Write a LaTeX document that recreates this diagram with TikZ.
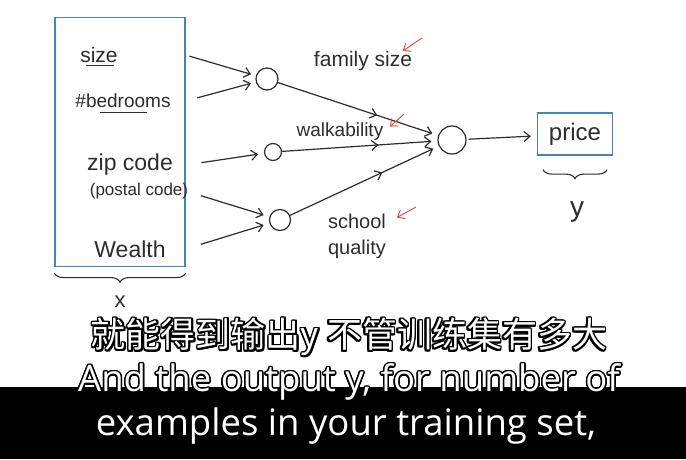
\documentclass[tikz,border=0pt]{standalone}
\usepackage{fontspec}
\setmainfont{Liberation Sans}
\newfontfamily\subfont{Open Sans}
\newfontfamily\cjkfont{Noto Sans CJK SC}
\usepackage{contour}
\contourlength{1.5pt}
\usetikzlibrary{arrows.meta,positioning,decorations.markings,decorations.pathreplacing}

\definecolor{inkblue}{RGB}{70,130,190}
\definecolor{inkred}{RGB}{228,80,70}
\definecolor{ink}{RGB}{45,45,45}

\begin{document}
\begin{tikzpicture}[
    x=1pt, y=-1pt,
    font=\fontsize{20}{22}\selectfont,
    >={Straight Barb[length=6pt,width=10pt]},
    feat/.style={text=ink, inner sep=1pt},
    lbl/.style={text=ink, inner sep=1pt, align=center},
    unit/.style={draw=ink, circle, line width=1.2pt, inner sep=0pt},
    arr/.style={->, line width=1.2pt, draw=ink},
    midarr/.style={postaction={decorate}, decoration={markings,
        mark=at position 0.62 with {\arrow[line width=1.2pt]{Straight Barb[length=6pt,width=10pt]}}}},
    redarr/.style={->, line width=1pt, draw=inkred, shorten >=2pt},
    sub/.style={text=white, inner sep=0pt}
  ]
    \fill[white] (0,0) rectangle (686,387);
    \fill[black] (0,387) rectangle (686,459);
    \useasboundingbox (0,0) rectangle (686,459);

    % inputs
    \node[draw=inkblue, line width=1.2pt, minimum width=130pt, minimum height=249pt] (inbox) at (120,142) {};
    \node[feat, font=\fontsize{21}{23}\selectfont] (size) at (99,55) {size};
    \node[feat, font=\fontsize{19}{21}\selectfont] (bed) at (123,101) {\#bedrooms};
    \node[feat, font=\fontsize{23}{25}\selectfont] (zip) at (130,165) {zip code};
    \node[feat, font=\fontsize{17}{19}\selectfont] (postal) at (139,191) {(postal code)};
    \node[feat, font=\fontsize{23}{25}\selectfont] (wealth) at (130,249) {Wealth};
    \draw[ink, line width=1pt] ([xshift=-13pt,yshift=-2pt]size.south) -- ([xshift=15pt,yshift=-2pt]size.south);
    \draw[ink, line width=1pt] ([xshift=-23pt,yshift=-3pt]bed.south) -- ([xshift=24pt,yshift=-3pt]bed.south);
    \draw[ink, line width=1.1pt, decorate, decoration={brace, amplitude=9pt, mirror}]
      ([yshift=-6pt]inbox.south west) -- ([yshift=-6pt]inbox.south east);
    \node[feat, font=\fontsize{22}{24}\selectfont] (xin) at (120,302) {x};

    % hidden units
    \node[unit, minimum size=22pt] (h1) at (267,79) {};
    \node[unit, minimum size=17pt] (h2) at (273,152) {};
    \node[unit, minimum size=21pt] (h3) at (280,220) {};
    \node[unit, minimum size=28pt] (out) at (452,140) {};

    % output
    \node[draw=inkblue, line width=1.2pt, minimum width=75pt, minimum height=42pt,
          font=\fontsize{24}{26}\selectfont, text=ink] (price) at (575,134) {price};
    \draw[ink, line width=1.1pt, decorate, decoration={brace, amplitude=9pt, mirror}]
      ([xshift=6pt,yshift=-14pt]price.south west) -- ([xshift=-6pt,yshift=-14pt]price.south east);
    \node[feat, font=\fontsize{28}{30}\selectfont] (yout) at (577,212) {y};

    % feature labels
    \node[lbl, font=\fontsize{21}{23}\selectfont] (fam) at (363,61) {family size};
    \node[lbl, font=\fontsize{19}{21}\selectfont] (walk) at (340,132) {walkability};
    \node[lbl, font=\fontsize{20}{26}\selectfont] (school) at (357,236) {school\\quality};

    \draw[arr, shorten <=4pt, shorten >=5pt] (inbox.east |- size) -- (h1);
    \draw[arr, shorten <=12pt, shorten >=5pt] (inbox.east |- bed) -- (h1);
    \draw[arr, shorten <=16pt, shorten >=6pt] (inbox.east |- zip) -- (h2);
    \draw[arr, shorten <=16pt, shorten >=6pt] (inbox.east |- postal) -- (h3);
    \draw[arr, shorten <=16pt, shorten >=6pt] (inbox.east |- wealth) -- (h3);

    \draw[arr, midarr, shorten >=6pt] (h1) -- (out);
    \draw[arr, midarr, shorten >=6pt] (h2) -- (out);
    \draw[arr, midarr, shorten >=6pt] (h3) -- (out);
    \draw[arr, shorten <=2pt, shorten >=6pt] (out) -- (price);

    \coordinate (r1) at (422,38);
    \coordinate (r2) at (404,114);
    \coordinate (r3) at (416,207);
    \draw[redarr] (r1) -- ([xshift=-12pt,yshift=-2pt]fam.north east);
    \draw[redarr] (r2) -- ([xshift=4pt,yshift=-6pt]walk.north east);
    \draw[redarr] (r3) -- ([xshift=8pt,yshift=-6pt]school.north east);

    % subtitles
    \node[sub, font=\cjkfont\fontsize{35}{38}\selectfont] (zh) at (349,338) {\contour{black}{就能得到输出y 不管训练集有多大}};
    \node[sub, font=\subfont\fontsize{36.5}{40}\selectfont] (en1) at (349,383) {\contour{black}{And the output y, for number of}};
    \node[sub, font=\subfont\fontsize{36.5}{40}\selectfont] (en2) at (346,427) {\contour{black}{examples in your training set,}};
  \end{tikzpicture}
\end{document}
